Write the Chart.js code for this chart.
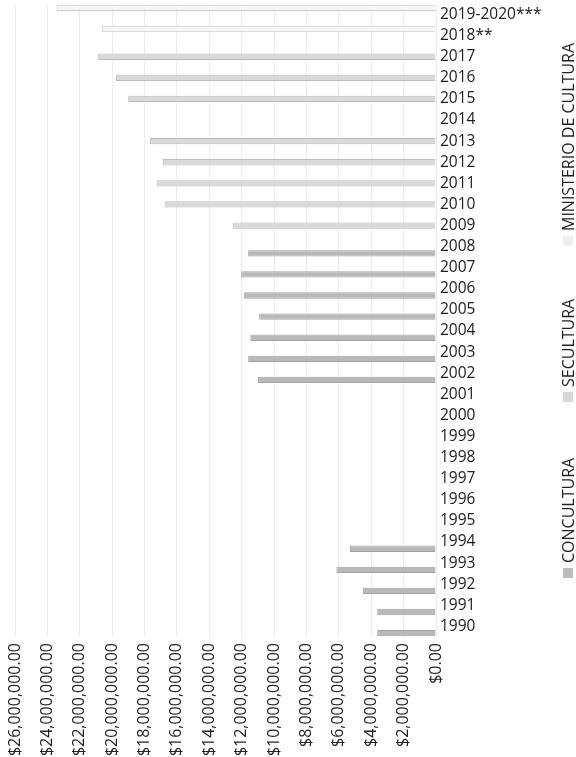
<!DOCTYPE html>
<html>
<head>
<meta charset="utf-8">
<script src="https://cdn.jsdelivr.net/npm/chart.js@4.4.1/dist/chart.umd.min.js"></script>
<style>
  body { margin: 0; background: #fff; }
  #wrap { width: 576px; height: 757px; }
</style>
</head>
<body>
<div id="wrap"><canvas id="myChart"></canvas></div>
<script>
// años, de arriba hacia abajo
var years = ['2019-2020***', '2018**', '2017', '2016', '2015', '2014', '2013', '2012', '2011', '2010',
	'2009', '2008', '2007', '2006', '2005', '2004', '2003', '2002', '2001', '2000',
	'1999', '1998', '1997', '1996', '1995', '1994', '1993', '1992', '1991', '1990'];

var ministerio = [23430000, 20640000, null, null, null, null, null, null, null, null,
	null, null, null, null, null, null, null, null, null, null,
	null, null, null, null, null, null, null, null, null, null];

var secultura = [null, null, 20890000, 19760000, 19010000, null, 17670000, 16870000, 17260000, 16760000,
	12530000, null, null, null, null, null, null, null, null, null,
	null, null, null, null, null, null, null, null, null, null];

var concultura = [null, null, null, null, null, null, null, null, null, null,
	null, 11600000, 12030000, 11880000, 10920000, 11470000, 11600000, 10990000, null, null,
	null, null, null, null, null, 5310000, 6150000, 4520000, 3630000, 3630000];

var xTicks = { min: 0, max: 26000000, step: 2000000 };

var money = new Intl.NumberFormat('en-US', { minimumFractionDigits: 2, maximumFractionDigits: 2 });
var family = "'Open Sans', sans-serif";

// leyenda vertical a la derecha
var sideLegend = {
	id: 'sideLegend',
	afterDraw: function(chart) {
		var ctx = chart.ctx;
		var tops = [236, 392, 568];
		ctx.save();
		ctx.font = '16px ' + family;
		chart.data.datasets.forEach(function(ds, i) {
			ctx.fillStyle = ds.legendColor;
			ctx.fillRect(563, tops[i], 10, 10);
			ctx.save();
			ctx.translate(569, tops[i] - 5);
			ctx.rotate(-Math.PI / 2);
			ctx.fillStyle = '#222';
			ctx.textAlign = 'left';
			ctx.textBaseline = 'middle';
			ctx.fillText(ds.label, 0, 0);
			ctx.restore();
		});
		ctx.restore();
	}
};

var ctx = document.getElementById('myChart').getContext('2d');
new Chart(ctx, {
	type: 'bar',
	data: {
		labels: years,
		datasets: [{
			label: 'MINISTERIO DE CULTURA',
			data: ministerio,
			backgroundColor: '#f6f6f6',
			borderColor: '#c9c9c9',
			legendColor: '#eeeeee',
			borderWidth: 1
		}, {
			label: 'SECULTURA',
			data: secultura,
			backgroundColor: '#d9d9d9',
			borderColor: '#bcbcbc',
			legendColor: '#d6d6d6',
			borderWidth: 1
		}, {
			label: 'CONCULTURA',
			data: concultura,
			backgroundColor: '#b9b9b9',
			borderColor: '#a3a3a3',
			legendColor: '#bdbdbd',
			borderWidth: 1
		}]
	},
	options: {
		indexAxis: 'y',
		responsive: true,
		maintainAspectRatio: false,
		animation: false,
		categoryPercentage: 0.95,
		barPercentage: 0.95,
		layout: { padding: { top: 4, right: 30, left: 15, bottom: 0 } },
		plugins: {
			legend: { display: false },
			tooltip: { enabled: false }
		},
		scales: {
			x: {
				reverse: true,
				min: xTicks.min,
				max: xTicks.max,
				grid: { color: '#ececec', drawTicks: false },
				border: { display: false },
				ticks: {
					stepSize: xTicks.step,
					maxRotation: 90,
					minRotation: 90,
					padding: 6,
					color: '#222',
					font: { family: family, size: 16 },
					callback: function(v) { return '$' + money.format(v); }
				},
				afterFit: function(scale) {
					scale.height = 120;
					scale.paddingLeft = 0;
					scale.paddingRight = 0;
				}
			},
			y: {
				position: 'right',
				grid: { display: false, drawTicks: false },
				border: { display: false },
				ticks: { padding: 4, color: '#222', font: { family: family, size: 15.5 }, autoSkip: false },
				afterFit: function(scale) {
					scale.width = 110;
					scale.paddingTop = 0;
					scale.paddingBottom = 0;
				}
			}
		}
	},
	plugins: [sideLegend]
});
</script>
</body>
</html>
